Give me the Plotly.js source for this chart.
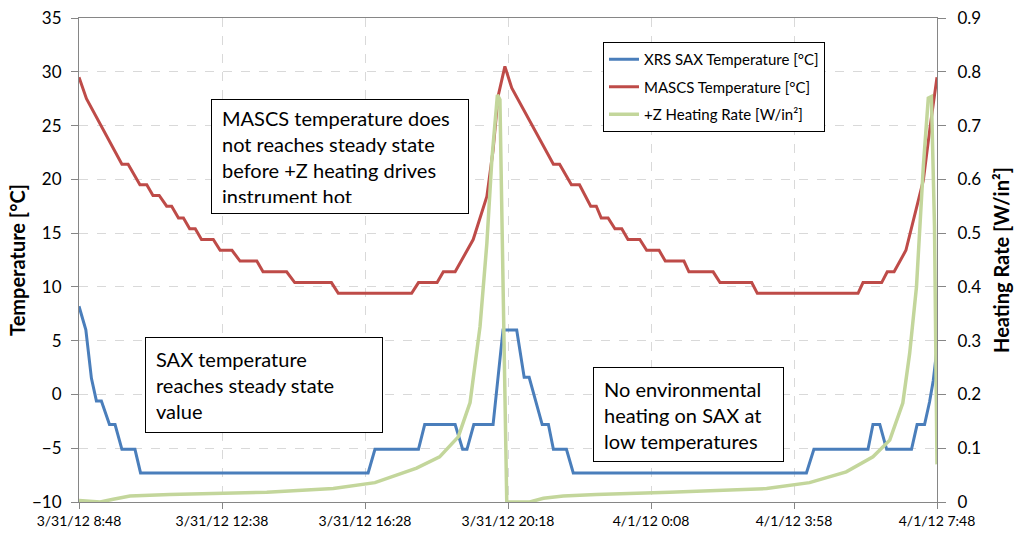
<!DOCTYPE html>
<html>
<head>
<meta charset="utf-8">
<script src="https://cdn.plot.ly/plotly-3.0.1.min.js"></script>
<style>
html,body{margin:0;padding:0;background:#fff;}
#chart{width:1016px;height:533px;}
</style>
</head>
<body>
<div id="chart"></div>
<script>
// ---- data ----
const saxTimes = [
  "2012-03-31 08:48","2012-03-31 08:59","2012-03-31 09:08","2012-03-31 09:16","2012-03-31 09:24",
  "2012-03-31 09:37","2012-03-31 09:46","2012-03-31 09:57","2012-03-31 10:18","2012-03-31 10:27",
  "2012-03-31 16:33","2012-03-31 16:44","2012-03-31 17:54","2012-03-31 18:04","2012-03-31 18:53",
  "2012-03-31 19:05","2012-03-31 19:12","2012-03-31 19:23","2012-03-31 19:54","2012-03-31 20:10",
  "2012-03-31 20:32","2012-03-31 20:44","2012-03-31 20:52","2012-03-31 21:13","2012-03-31 21:23",
  "2012-03-31 21:31","2012-03-31 21:52","2012-03-31 22:03","2012-04-01 04:18","2012-04-01 04:30",
  "2012-04-01 05:57","2012-04-01 06:05","2012-04-01 06:16","2012-04-01 06:27","2012-04-01 07:07",
  "2012-04-01 07:16","2012-04-01 07:28","2012-04-01 07:36","2012-04-01 07:42","2012-04-01 07:47"
];
const saxTemp = [
  8.2, 6.0, 1.5, -0.6, -0.6,
  -2.8, -2.8, -5.1, -5.1, -7.3,
  -7.3, -5.1, -5.1, -2.8, -2.8,
  -5.1, -5.1, -2.8, -2.8, 6.0,
  6.0, 1.6, 1.6, -2.8, -2.8,
  -5.1, -5.1, -7.3, -7.3, -5.1,
  -5.1, -2.8, -2.8, -5.1, -5.1,
  -2.8, -2.8, -0.7, 1.3, 3.8
];

const mascsTimes = [
  "2012-03-31 08:48","2012-03-31 09:00","2012-03-31 09:57","2012-03-31 10:07","2012-03-31 10:26",
  "2012-03-31 10:37","2012-03-31 10:47","2012-03-31 10:57","2012-03-31 11:09","2012-03-31 11:17",
  "2012-03-31 11:28","2012-03-31 11:36","2012-03-31 11:46","2012-03-31 11:55","2012-03-31 12:05",
  "2012-03-31 12:24","2012-03-31 12:35","2012-03-31 12:54","2012-03-31 13:07","2012-03-31 13:34",
  "2012-03-31 13:44","2012-03-31 14:22","2012-03-31 14:35","2012-03-31 15:34","2012-03-31 15:45",
  "2012-03-31 17:43","2012-03-31 17:54","2012-03-31 18:24","2012-03-31 18:34","2012-03-31 18:53",
  "2012-03-31 19:22","2012-03-31 19:44","2012-03-31 19:54","2012-03-31 20:02","2012-03-31 20:13",
  "2012-03-31 20:24","2012-03-31 21:31","2012-03-31 21:41","2012-03-31 22:00","2012-03-31 22:13",
  "2012-03-31 22:31","2012-03-31 22:40","2012-03-31 22:48","2012-03-31 22:59","2012-03-31 23:10",
  "2012-03-31 23:21","2012-03-31 23:31","2012-03-31 23:50","2012-04-01 00:01","2012-04-01 00:21",
  "2012-04-01 00:31","2012-04-01 01:01","2012-04-01 01:09","2012-04-01 01:48","2012-04-01 01:59",
  "2012-04-01 02:50","2012-04-01 02:59","2012-04-01 05:41","2012-04-01 05:49","2012-04-01 06:19",
  "2012-04-01 06:28","2012-04-01 06:39","2012-04-01 06:58","2012-04-01 07:15","2012-04-01 07:26",
  "2012-04-01 07:37","2012-04-01 07:48"
];
const mascsTemp = [
  29.5, 27.5, 21.4, 21.4, 19.5, 19.5, 18.5, 18.5, 17.5, 17.5,
  16.4, 16.4, 15.4, 15.4, 14.4, 14.4, 13.4, 13.4, 12.4, 12.4,
  11.4, 11.4, 10.4, 10.4, 9.4, 9.4, 10.4, 10.4, 11.4, 11.4,
  14.4, 18.4, 22.7, 27.7, 30.5, 28.5, 21.4, 21.4, 19.5, 19.5,
  17.5, 17.5, 16.4, 16.4, 15.4, 15.4, 14.4, 14.4, 13.4, 13.4,
  12.4, 12.4, 11.4, 11.4, 10.4, 10.4, 9.4, 9.4, 10.4, 10.4,
  11.4, 11.4, 13.4, 17.2, 19.9, 24.9, 29.5
];

const heatTimes = [
  "2012-03-31 08:48","2012-03-31 09:22","2012-03-31 09:43","2012-03-31 10:10","2012-03-31 11:14",
  "2012-03-31 12:51","2012-03-31 13:50","2012-03-31 15:37","2012-03-31 16:44","2012-03-31 17:51",
  "2012-03-31 18:28","2012-03-31 18:58","2012-03-31 19:17","2012-03-31 19:33","2012-03-31 19:44",
  "2012-03-31 19:52","2012-03-31 20:01","2012-03-31 20:05","2012-03-31 20:10","2012-03-31 20:16",
  "2012-03-31 20:53","2012-03-31 21:15","2012-03-31 21:47","2012-03-31 22:40","2012-04-01 00:38",
  "2012-04-01 03:14","2012-04-01 04:23","2012-04-01 05:22","2012-04-01 06:05","2012-04-01 06:32",
  "2012-04-01 06:53","2012-04-01 07:04","2012-04-01 07:15","2012-04-01 07:20","2012-04-01 07:26",
  "2012-04-01 07:34","2012-04-01 07:39","2012-04-01 07:44","2012-04-01 07:47","2012-04-01 07:48"
];
const heatRate = [
  0.003, 0.0, 0.005, 0.011, 0.014,
  0.016, 0.018, 0.025, 0.036, 0.063,
  0.084, 0.121, 0.185, 0.326, 0.481,
  0.636, 0.757, 0.748, 0.388, 0.0,
  0.0, 0.007, 0.011, 0.014, 0.018,
  0.025, 0.036, 0.056, 0.084, 0.115,
  0.184, 0.276, 0.40, 0.50, 0.624,
  0.751, 0.754, 0.512, 0.203, 0.07
];

const xTickVals = [
  "2012-03-31 08:48","2012-03-31 12:38","2012-03-31 16:28","2012-03-31 20:18",
  "2012-04-01 00:08","2012-04-01 03:58","2012-04-01 07:48"
];
const xTickText = [
  "3/31/12 8:48","3/31/12 12:38","3/31/12 16:28","3/31/12 20:18",
  "4/1/12 0:08","4/1/12 3:58","4/1/12 7:48"
];
const seriesNames = ["XRS SAX Temperature [°C]", "MASCS Temperature [°C]", "+Z Heating Rate [W/in²]"];
const noteTexts = [
  "MASCS temperature does<br>not reaches steady state<br>before +Z heating drives<br>instrument hot",
  "SAX temperature<br>reaches steady state<br>value",
  "No environmental<br>heating on SAX at<br>low temperatures"
];

// ---- chart ----
const FONT = "Lato, 'Open Sans', sans-serif";
const gridC = "#d9d9d9", axisC = "#868686";

const traces = [
  {x: saxTimes, y: saxTemp, name: seriesNames[0], type: "scatter", mode: "lines",
   line: {color: "#4A7EBB", width: 3}, legendgroup: "a", yaxis: "y"},
  {x: mascsTimes, y: mascsTemp, name: seriesNames[1], type: "scatter", mode: "lines",
   line: {color: "#BE4B48", width: 3}, legendgroup: "b", yaxis: "y"},
  {x: heatTimes, y: heatRate, name: seriesNames[2], type: "scatter", mode: "lines",
   line: {color: "#C3D69B", width: 3.5}, legendgroup: "c", yaxis: "y2"}
];

const layout = {
  width: 1016, height: 533,
  margin: {l: 79, r: 79, t: 18, b: 31, pad: 0},
  paper_bgcolor: "#fff", plot_bgcolor: "#fff",
  font: {family: FONT, color: "#000"},
  showlegend: true,
  legend: {
    x: 0.6107, y: 0.9504, xanchor: "left", yanchor: "top",
    bordercolor: "#000", borderwidth: 1, bgcolor: "#fff",
    font: {family: FONT, size: 15, color: "#000"},
    traceorder: "grouped", tracegroupgap: 5
  },
  xaxis: {
    type: "date",
    range: [xTickVals[0], xTickVals[xTickVals.length - 1]],
    tickmode: "array", tickvals: xTickVals, ticktext: xTickText,
    tickfont: {family: FONT, size: 14, color: "#000"},
    ticks: "outside", ticklen: 6, tickcolor: axisC,
    showline: true, linecolor: axisC, linewidth: 1, mirror: true,
    showgrid: true, gridcolor: gridC, griddash: "dash", gridwidth: 1,
    zeroline: false, automargin: false, fixedrange: true
  },
  yaxis: {
    range: [-10, 35], tickmode: "linear", tick0: -10, dtick: 5,
    tickfont: {family: FONT, size: 17, color: "#000"},
    ticks: "outside", ticklen: 7, tickcolor: axisC,
    ticklabelstandoff: 6,
    showline: true, linecolor: axisC, linewidth: 1,
    showgrid: true, gridcolor: gridC, griddash: "dash", gridwidth: 1,
    zeroline: false, automargin: false,
    title: {text: "<b>Temperature [°C]</b>", font: {family: FONT, size: 20, color: "#000"}, standoff: 1}
  },
  yaxis2: {
    overlaying: "y", side: "right",
    range: [0, 0.9], tickmode: "linear", tick0: 0, dtick: 0.1,
    tickfont: {family: FONT, size: 17, color: "#000"},
    ticks: "outside", ticklen: 8, tickcolor: axisC,
    ticklabelstandoff: 8,
    showline: true, linecolor: axisC, linewidth: 1,
    showgrid: false, zeroline: false, automargin: false,
    title: {text: "<b>Heating Rate [W/in²]</b>", font: {family: FONT, size: 20, color: "#000"}, standoff: 14}
  },
  annotations: [
    {xref: "paper", yref: "paper", x: 0.1538, y: 0.8326, xanchor: "left", yanchor: "top",
     text: noteTexts[0], showarrow: false, align: "left", valign: "middle",
     width: 236, height: 93, borderpad: 10, bordercolor: "#000", borderwidth: 1, bgcolor: "#fff",
     font: {family: FONT, size: 20, color: "#000"}},
    {xref: "paper", yref: "paper", x: 0.0769, y: 0.3409, xanchor: "left", yanchor: "top",
     text: noteTexts[1], showarrow: false, align: "left", valign: "middle",
     width: 216, height: 74, borderpad: 10, bordercolor: "#000", borderwidth: 1, bgcolor: "#fff",
     font: {family: FONT, size: 20, color: "#000"}},
    {xref: "paper", yref: "paper", x: 0.5991, y: 0.2789, xanchor: "left", yanchor: "top",
     text: noteTexts[2], showarrow: false, align: "left", valign: "middle",
     width: 169, height: 73, borderpad: 10, bordercolor: "#000", borderwidth: 1, bgcolor: "#fff",
     font: {family: FONT, size: 20, color: "#000"}}
  ]
};

Plotly.newPlot("chart", traces, layout, {displayModeBar: false, staticPlot: true});
</script>
</body>
</html>
